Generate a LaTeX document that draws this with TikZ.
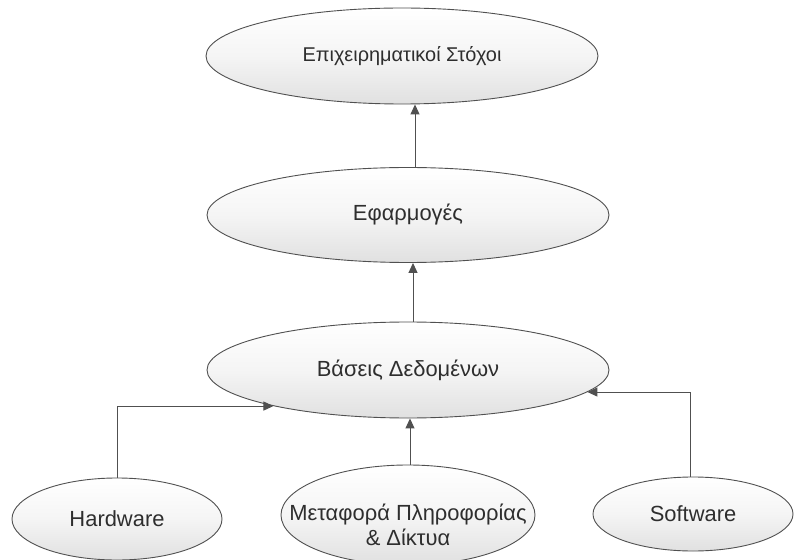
\documentclass[tikz,border=0pt]{standalone}
\usepackage{fontspec}
\setmainfont{Liberation Sans}
\usetikzlibrary{shapes.geometric,arrows.meta}
\definecolor{edgegray}{HTML}{505050}
\definecolor{txtgray}{HTML}{2E2E2E}
\tikzset{
  blob/.style={ellipse, draw=edgegray, line width=0.9bp, inner sep=0pt,
    top color=white, bottom color=black!12, middle color=black!4},
  lbl/.style={text=txtgray, font=\fontsize{22}{25}\selectfont, align=center, inner sep=0pt},
  conn/.style={draw=edgegray, line width=1bp, -{Triangle[length=10bp,width=9bp]}}
}
\begin{document}
\begin{tikzpicture}[x=1bp,y=-1bp]
\useasboundingbox (0,0) rectangle (795,560);
\fill[white] (0,0) rectangle (795,560);
\clip (0,0) rectangle (795,560);

% ellipses
\node[blob, minimum width=392bp, minimum height=96bp] (goals) at (402,56) {};
\node[blob, minimum width=402bp, minimum height=95bp] (apps) at (408,215) {};
\node[blob, minimum width=402bp, minimum height=96bp] (db) at (408,370) {};
\node[blob, minimum width=210bp, minimum height=82bp] (hw) at (117,519) {};
\node[blob, minimum width=254bp, minimum height=100bp] (net) at (408,515) {};
\node[blob, minimum width=200bp, minimum height=74bp] (sw) at (693,514) {};

% labels
\node[lbl, font=\fontsize{20}{24}\selectfont] (goalsT) at (goals) {Επιχειρηματικοί Στόχοι};
\node[lbl] (appsT) at (apps) {Εφαρμογές};
\node[lbl] (dbT) at (db) {Βάσεις Δεδομένων};
\node[lbl] (hwT) at (hw) {Hardware};
\node[lbl] (netT) at (408,525) {Μεταφορά Πληροφορίας\\\& Δίκτυα};
\node[lbl] (swT) at (sw) {Software};

% connectors
\draw[conn] (apps.north -| 415,0) -- (goals.south -| 415,0);
\draw[conn] (db.north -| 413,0) -- (apps.south -| 413,0);
\draw[conn] (net.north -| 410,0) -- (db.south -| 410,0);
\draw[conn] (hw.north) |- (db.195.4);
\draw[conn] (sw.north -| 690,0) |- (db.-7.9);
\end{tikzpicture}
\end{document}
